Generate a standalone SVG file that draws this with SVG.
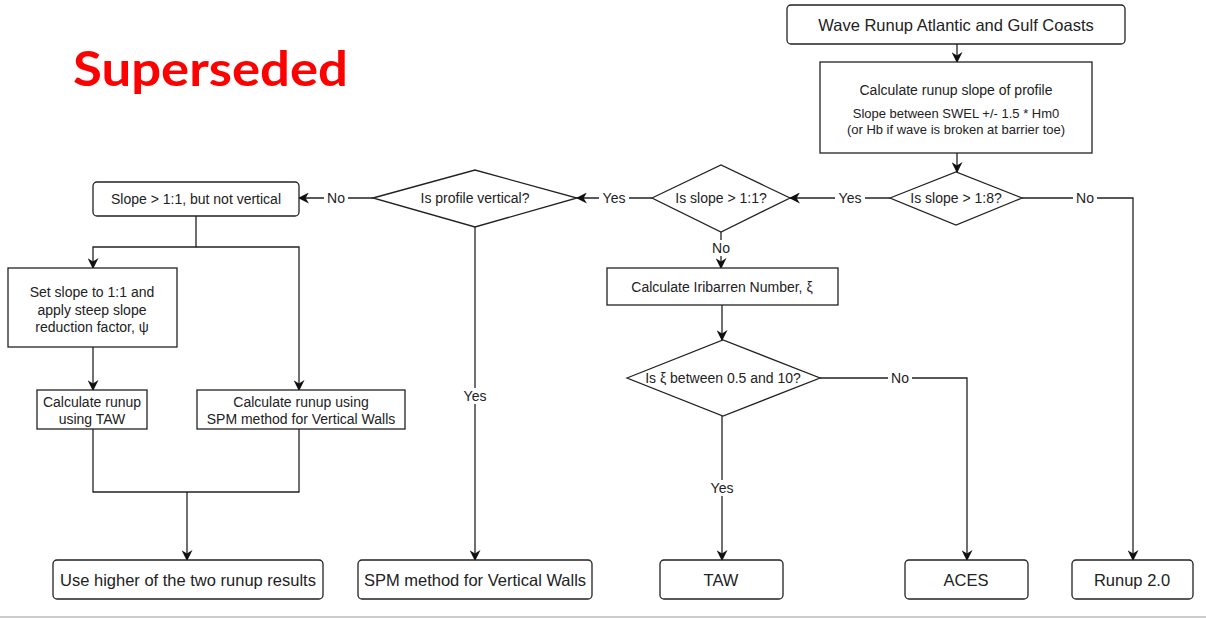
<svg xmlns="http://www.w3.org/2000/svg" width="1206" height="618" viewBox="0 0 1206 618">
<style>
.box{fill:#fff;stroke:#222;stroke-width:1.3}
.dia{fill:#fff;stroke:#222;stroke-width:1.3}
.t{font-family:"Liberation Sans",Arial,sans-serif;fill:#222;text-anchor:middle;dominant-baseline:central}
.m{font-size:14px}
.b{font-size:16.5px}
.s{font-size:13px}
.ln{fill:none;stroke:#222;stroke-width:1.3}
.arr{marker-end:url(#ah)}
.lbl{font-family:"Liberation Sans",Arial,sans-serif;font-size:14px;fill:#222;text-anchor:middle;dominant-baseline:central}
.lb{fill:#fff}
</style>
<defs>
<marker id="ah" viewBox="0 0 10 10" refX="9" refY="5" markerWidth="11" markerHeight="11" markerUnits="userSpaceOnUse" orient="auto">
<path d="M0,0 L10,5 L0,10 L3,5 z" fill="#111"/>
</marker>
</defs>
<rect width="1206" height="618" fill="#fff"/>
<line x1="0" y1="617" x2="1206" y2="617" stroke="#ccc" stroke-width="2"/>
<text x="73" y="86" font-family="Lato,'Liberation Sans',sans-serif" font-weight="bold" font-size="48" fill="#f00" textLength="275" lengthAdjust="spacingAndGlyphs">Superseded</text>

<g id="connectors">
<path class="ln arr" d="M957,44 V62"/>
<path class="ln arr" d="M957,153 V172"/>
<path class="ln arr" d="M890,198 H790"/>
<path class="ln arr" d="M1022,198 H1133 V560"/>
<path class="ln arr" d="M652,198 H577"/>
<path class="ln arr" d="M721,232 V268"/>
<path class="ln arr" d="M373,198 H299"/>
<path class="ln arr" d="M475,227 V560"/>
<path class="ln arr" d="M196,216 V247 H93 V268"/>
<path class="ln arr" d="M196,247 H299 V390"/>
<path class="ln arr" d="M93,347 V390"/>
<path class="ln arr" d="M722,305 V340"/>
<path class="ln arr" d="M820,378 H967 V560"/>
<path class="ln arr" d="M722,416 V560"/>
<path class="ln" d="M93,429 V492 H299 V429"/>
<path class="ln arr" d="M187,492 V560"/>
<rect class="lb" x="835" y="190" width="30" height="16"/><text class="lbl" x="850" y="198">Yes</text>
<rect class="lb" x="1073" y="190" width="24" height="16"/><text class="lbl" x="1085" y="198">No</text>
<rect class="lb" x="599" y="190" width="30" height="16"/><text class="lbl" x="614" y="198">Yes</text>
<rect class="lb" x="709" y="240" width="24" height="16"/><text class="lbl" x="721" y="248">No</text>
<rect class="lb" x="324" y="190" width="24" height="16"/><text class="lbl" x="336" y="198">No</text>
<rect class="lb" x="460" y="388" width="30" height="16"/><text class="lbl" x="475" y="396">Yes</text>
<rect class="lb" x="888" y="370" width="24" height="16"/><text class="lbl" x="900" y="378">No</text>
<rect class="lb" x="707" y="480" width="30" height="16"/><text class="lbl" x="722" y="488">Yes</text>
</g>

<g id="n-title"><rect class="box" x="787" y="5" width="338" height="39" rx="4"/><text class="t b" x="956" y="25">Wave Runup Atlantic and Gulf Coasts</text></g>
<g id="n-calcslope"><rect class="box" x="820" y="62" width="272" height="91"/>
<text class="t m" x="956" y="90">Calculate runup slope of profile</text>
<text class="t s" x="956" y="113">Slope between SWEL +/- 1.5 * Hm0</text>
<text class="t s" x="956" y="129">(or Hb if wave is broken at barrier toe)</text></g>
<g id="n-d18"><polygon class="dia" points="890,198 956,172 1022,198 956,225"/><text class="t m" x="956" y="198">Is slope &gt; 1:8?</text></g>
<g id="n-d11"><polygon class="dia" points="652,198 721,165 790,198 721,232"/><text class="t m" x="721" y="198">Is slope &gt; 1:1?</text></g>
<g id="n-dvert"><polygon class="dia" points="373,198 475,170 577,198 475,227"/><text class="t m" x="475" y="198">Is profile vertical?</text></g>
<g id="n-steep"><rect class="box" x="93" y="182" width="206" height="34" rx="4"/><text class="t m" x="196" y="199">Slope &gt; 1:1, but not vertical</text></g>
<g id="n-set"><rect class="box" x="8" y="268" width="169" height="79"/>
<text class="t m" x="92" y="292">Set slope to 1:1 and</text>
<text class="t m" x="92" y="310">apply steep slope</text>
<text class="t m" x="92" y="327">reduction factor, ψ</text></g>
<g id="n-calctaw"><rect class="box" x="37" y="390" width="110" height="39"/>
<text class="t m" x="92" y="402">Calculate runup</text>
<text class="t m" x="92" y="419">using TAW</text></g>
<g id="n-calcspm"><rect class="box" x="197" y="390" width="208" height="39"/>
<text class="t m" x="301" y="402">Calculate runup using</text>
<text class="t m" x="301" y="419">SPM method for Vertical Walls</text></g>
<g id="n-irib"><rect class="box" x="607" y="268" width="231" height="37"/><text class="t m" x="722" y="287">Calculate Iribarren Number, ξ</text></g>
<g id="n-dxi"><polygon class="dia" points="627,378 723,340 820,378 723,416"/><text class="t m" x="723" y="378">Is ξ between 0.5 and 10?</text></g>
<g id="n-higher"><rect class="box" x="53" y="560" width="270" height="39" rx="4"/><text class="t b" x="188" y="580">Use higher of the two runup results</text></g>
<g id="n-spm"><rect class="box" x="358" y="560" width="234" height="39" rx="4"/><text class="t b" x="475" y="580">SPM method for Vertical Walls</text></g>
<g id="n-taw"><rect class="box" x="660" y="560" width="123" height="39" rx="4"/><text class="t b" x="721" y="580">TAW</text></g>
<g id="n-aces"><rect class="box" x="905" y="560" width="123" height="39" rx="4"/><text class="t b" x="966" y="580">ACES</text></g>
<g id="n-runup"><rect class="box" x="1072" y="560" width="121" height="39" rx="4"/><text class="t b" x="1132" y="580">Runup 2.0</text></g>
</svg>
